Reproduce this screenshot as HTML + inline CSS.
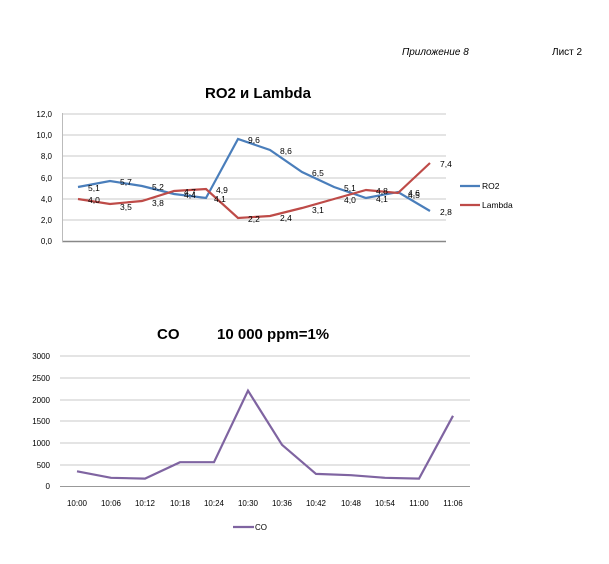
<!DOCTYPE html>
<html><head><meta charset="utf-8"><style>
body{margin:0;background:#fff;}
svg text{font-family:"Liberation Sans",sans-serif;}
</style></head><body>
<svg width="609" height="559" xmlns="http://www.w3.org/2000/svg">
<text x="402" y="55" font-size="10" font-style="italic">Приложение 8</text>
<text x="552" y="55" font-size="10">Лист 2</text>
<text x="258" y="98" font-size="15" font-weight="bold" text-anchor="middle">RO2 и Lambda</text>
<g stroke="#c8c8c8" stroke-width="1">
<line x1="62" x2="446" y1="114" y2="114"/><line x1="62" x2="446" y1="135" y2="135"/>
<line x1="62" x2="446" y1="156" y2="156"/><line x1="62" x2="446" y1="178" y2="178"/>
<line x1="62" x2="446" y1="199" y2="199"/><line x1="62" x2="446" y1="220" y2="220"/>
</g>
<line x1="62" x2="446" y1="241.5" y2="241.5" stroke="#888" stroke-width="1.5"/>
<line x1="62.5" x2="62.5" y1="113" y2="242" stroke="#bbb"/>
<g font-size="8" text-anchor="end">
<text x="52" y="117">12,0</text><text x="52" y="138">10,0</text><text x="52" y="159">8,0</text>
<text x="52" y="181">6,0</text><text x="52" y="202">4,0</text><text x="52" y="223">2,0</text><text x="52" y="244">0,0</text>
</g>
<polyline fill="none" stroke="#4a7ebb" stroke-width="2.2" points="78,187 110,181 142,186 174,194 206,198 238,139 270,150 302,172 334,187 366,198 398,192 430,211"/>
<polyline fill="none" stroke="#be4b48" stroke-width="2.2" points="78,199 110,204 142,201 174,191 206,189 238,218 270,216 302,208 334,199 366,190 398,193 430,163"/>
<g font-size="8.5">
<text x="88" y="191">5,1</text><text x="120" y="185">5,7</text><text x="152" y="190">5,2</text>
<text x="184" y="198">4,4</text><text x="214" y="202">4,1</text><text x="248" y="143">9,6</text>
<text x="280" y="154">8,6</text><text x="312" y="176">6,5</text><text x="344" y="191">5,1</text>
<text x="376" y="202">4,1</text><text x="408" y="196">4,6</text><text x="440" y="215">2,8</text>
<text x="88" y="203">4,0</text><text x="120" y="210">3,5</text><text x="152" y="206">3,8</text>
<text x="184" y="195">4,7</text><text x="216" y="193">4,9</text><text x="248" y="222">2,2</text>
<text x="280" y="221">2,4</text><text x="312" y="213">3,1</text><text x="344" y="203">4,0</text>
<text x="376" y="194">4,8</text><text x="408" y="198">4,5</text><text x="440" y="167">7,4</text>
</g>
<line x1="460" x2="480" y1="186" y2="186" stroke="#4a7ebb" stroke-width="2.2"/>
<text x="482" y="189" font-size="8.5">RO2</text>
<line x1="460" x2="480" y1="205" y2="205" stroke="#be4b48" stroke-width="2.2"/>
<text x="482" y="208" font-size="8.5">Lambda</text>

<text x="157" y="339" font-size="15" font-weight="bold">CO</text>
<text x="217" y="339" font-size="15" font-weight="bold">10 000 ppm=1%</text>
<g stroke="#c8c8c8" stroke-width="1">
<line x1="60" x2="470" y1="356" y2="356"/><line x1="60" x2="470" y1="378" y2="378"/>
<line x1="60" x2="470" y1="400" y2="400"/><line x1="60" x2="470" y1="421" y2="421"/>
<line x1="60" x2="470" y1="443" y2="443"/><line x1="60" x2="470" y1="465" y2="465"/>
</g>
<line x1="60" x2="470" y1="486.5" y2="486.5" stroke="#999"/>
<g font-size="8" text-anchor="end">
<text x="50" y="359">3000</text><text x="50" y="381">2500</text><text x="50" y="403">2000</text>
<text x="50" y="424">1500</text><text x="50" y="446">1000</text><text x="50" y="468">500</text><text x="50" y="489">0</text>
</g>
<polyline fill="none" stroke="#7f64a1" stroke-width="2.2" points="77,471.3 111,477.8 145,478.6 180,462.2 214,462.2 248,390.7 282,444.8 316,473.9 351,475.2 385,477.8 419,478.6 453,415.8"/>
<g font-size="8" text-anchor="middle">
<text x="77" y="506">10:00</text><text x="111" y="506">10:06</text><text x="145" y="506">10:12</text>
<text x="180" y="506">10:18</text><text x="214" y="506">10:24</text><text x="248" y="506">10:30</text>
<text x="282" y="506">10:36</text><text x="316" y="506">10:42</text><text x="351" y="506">10:48</text>
<text x="385" y="506">10:54</text><text x="419" y="506">11:00</text><text x="453" y="506">11:06</text>
</g>
<line x1="233" x2="254" y1="527" y2="527" stroke="#7f64a1" stroke-width="2.2"/>
<text x="255" y="530" font-size="8">CO</text>
</svg>
</body></html>
